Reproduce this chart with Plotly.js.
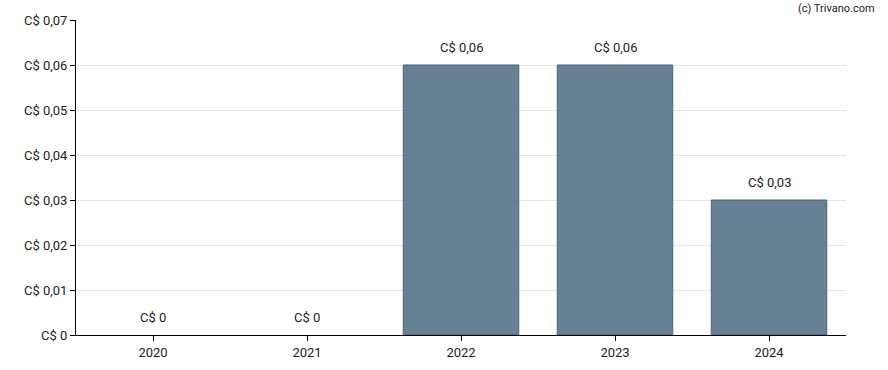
<!DOCTYPE html>
<html><head><meta charset="utf-8">
<script src="https://cdn.plot.ly/plotly-3.0.1.min.js"></script>
<style>body{margin:0;background:#fff}#c{width:888px;height:370px}</style>
</head><body><div id="c"></div>
<script>
const years = ['2020','2021','2022','2023','2024'];
const dividends = [0, 0, 0.06, 0.06, 0.03];
const labels = ['C$ 0','C$ 0','C$ 0,06','C$ 0,06','C$ 0,03'];
const yTickVals = [0,0.01,0.02,0.03,0.04,0.05,0.06,0.07];
const yTickText = ['C$ 0','C$ 0,01','C$ 0,02','C$ 0,03','C$ 0,04','C$ 0,05','C$ 0,06','C$ 0,07'];

const ann = years.map((yr, i) => ({
  x: i, y: dividends[i], xref:'x', yref:'y', text: labels[i],
  showarrow:false, yanchor:'bottom', yshift:8,
  font:{family:'Roboto', size:13, color:'#222'}
}));
ann.push({text:'(c) Trivano.com', xref:'paper', yref:'paper', x:1.04, y:1.0, xanchor:'right', yanchor:'bottom',
  yshift:3, showarrow:false, font:{family:'Roboto', size:11, color:'#222'}});

Plotly.newPlot('c', [{
  type:'bar', x: years, y: dividends,
  marker:{color:'rgba(90,118,139,0.92)', line:{color:'#4a6479', width: dividends.map(v => v > 0 ? 1 : 0)}},
  width:0.75, hoverinfo:'none'
}], {
  width:888, height:370,
  margin:{l:76, r:42, t:20, b:35},
  paper_bgcolor:'#fff', plot_bgcolor:'#fff',
  font:{family:'Roboto', size:13, color:'#222'},
  showlegend:false,
  xaxis:{type:'category', range:[-0.5,4.5], showline:true, linecolor:'#000', linewidth:1,
    ticks:'outside', ticklen:5, tickcolor:'#000', showgrid:false,
    tickfont:{family:'Roboto', size:13, color:'#222'}},
  yaxis:{range:[0,0.07], tickvals:yTickVals, ticktext:yTickText,
    showline:true, linecolor:'#000', linewidth:1, ticks:'outside', ticklen:5, tickcolor:'#000',
    showgrid:true, gridcolor:'#e6e6e6', gridwidth:1, zeroline:false,
    tickfont:{family:'Roboto', size:13, color:'#222'}},
  annotations: ann
}, {displayModeBar:false, staticPlot:true});
</script></body></html>
